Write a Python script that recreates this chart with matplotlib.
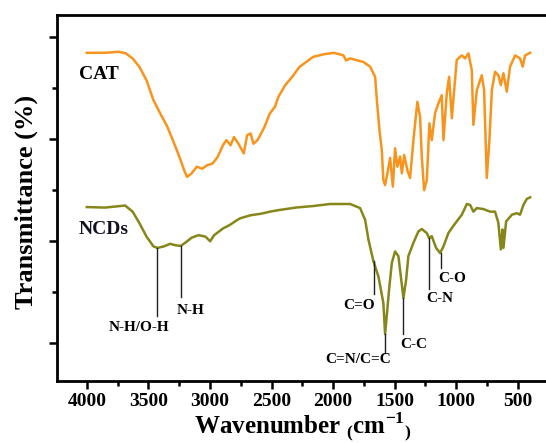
# FTIR spectra of CAT and NCDs

from matplotlib import pyplot as plt
from matplotlib.ticker import MultipleLocator

# CAT spectrum (wavenumber, offset transmittance)
cat_wn = [4000, 3853, 3741, 3684, 3628, 3572, 3515, 3459, 3403, 3346, 3290,
          3248, 3205, 3186, 3149, 3107, 3064, 3022, 2980, 2938, 2895, 2867,
          2833, 2805, 2769, 2726, 2698, 2670, 2647, 2614, 2557, 2515, 2473,
          2444, 2388, 2332, 2275, 2219, 2163, 2078, 2024, 1994, 1916, 1895,
          1862, 1754, 1700, 1659, 1645, 1624, 1605, 1592, 1578, 1559, 1537,
          1515, 1497, 1478, 1456, 1442, 1423, 1397, 1375, 1348, 1316, 1294,
          1280, 1261, 1239, 1218, 1199, 1172, 1145, 1118, 1104, 1077, 1058,
          1036, 1017, 996, 955, 928, 901, 874, 861, 833, 793, 774, 752, 731,
          711, 685, 658, 638, 617, 590, 563, 522, 482, 460, 441, 400]
cat_t = [5.69, 5.69, 5.71, 5.68, 5.58, 5.41, 5.15, 4.76, 4.50, 4.24, 3.91,
         3.65, 3.36, 3.26, 3.33, 3.46, 3.42, 3.49, 3.52, 3.65, 3.88, 3.98,
         3.88, 4.04, 3.91, 3.72, 4.08, 4.11, 3.91, 3.98, 4.24, 4.50, 4.63,
         4.83, 5.06, 5.22, 5.41, 5.51, 5.61, 5.66, 5.68, 5.69, 5.64, 5.54,
         5.58, 5.51, 5.42, 5.22, 4.77, 4.18, 3.79, 3.20, 3.10, 3.33, 3.63,
         3.07, 3.82, 3.46, 3.66, 3.33, 3.69, 3.39, 3.24, 3.98, 4.73, 4.44,
         3.66, 3.00, 3.20, 4.31, 3.98, 4.51, 4.70, 4.86, 3.98, 4.90, 5.22,
         4.41, 4.96, 5.55, 5.64, 5.58, 5.68, 5.35, 4.28, 4.96, 5.25, 4.96,
         3.24, 3.98, 4.96, 5.32, 5.25, 5.06, 5.29, 4.93, 5.42, 5.64, 5.58,
         5.42, 5.64, 5.69]

# NCDs spectrum
ncd_wn = [4000, 3853, 3689, 3628, 3572, 3515, 3459, 3427, 3374, 3324, 3276,
          3237, 3191, 3149, 3093, 3036, 2999, 2966, 2895, 2839, 2783, 2755,
          2670, 2585, 2512, 2444, 2304, 2163, 2024, 1862, 1781, 1740, 1713,
          1673, 1632, 1592, 1578, 1543, 1523, 1497, 1470, 1450, 1429, 1407,
          1389, 1348, 1308, 1280, 1239, 1220, 1199, 1164, 1131, 1104, 1064,
          1036, 996, 955, 914, 887, 861, 833, 779, 725, 685, 658, 638, 625,
          617, 595, 548, 508, 482, 455, 427, 400]
ncd_t = [2.67, 2.66, 2.70, 2.58, 2.35, 2.09, 1.90, 1.87, 1.90, 1.95, 1.92,
         1.91, 1.99, 2.07, 2.12, 2.09, 2.00, 2.12, 2.25, 2.32, 2.41, 2.45,
         2.51, 2.54, 2.58, 2.61, 2.66, 2.69, 2.73, 2.73, 2.65, 2.42, 2.03,
         1.61, 1.31, 0.79, 0.18, 1.12, 1.58, 1.80, 1.71, 1.31, 0.89, 1.25,
         1.71, 1.97, 2.19, 2.24, 2.16, 2.06, 2.10, 1.87, 1.77, 1.90, 2.16,
         2.26, 2.39, 2.52, 2.73, 2.71, 2.58, 2.65, 2.63, 2.58, 2.58, 2.36,
         1.84, 2.23, 1.87, 2.39, 2.52, 2.55, 2.52, 2.71, 2.83, 2.86]

# peak assignments: label, marker line x, line top, line bottom, text x, text y
peak_labels = ["N-H/O-H", "N-H", "C=O", "C=N/C=C", "C-C", "C-N", "C-O"]
peak_wn = [3427, 3237, 1667, 1578, 1429, 1220, 1125]
line_top = [1.87, 1.91, 1.61, 0.18, 0.89, 2.06, 1.77]
line_bottom = [0.53, 0.90, 0.96, -0.18, 0.18, 1.06, 1.48]
label_wn = [3577, 3155, 1789, 1799, 1344, 1131, 1036]
label_t = [0.31, 0.64, 0.74, -0.31, -0.02, 0.87, 1.27]

plt.rcParams['font.family'] = ['Liberation Serif', 'DejaVu Serif']
plt.rcParams['font.weight'] = 'bold'
plt.rcParams['mathtext.fontset'] = 'custom'
plt.rcParams['mathtext.rm'] = 'Liberation Serif:bold'
plt.rcParams['mathtext.bf'] = 'Liberation Serif:bold'

fig = plt.figure(figsize=(5.46, 4.43), dpi=100)
# right spine sits just outside the picture, as in the original
ax = fig.add_axes([0.1038, 0.1406, 0.901, 0.8255])

ax.plot(cat_wn, cat_t, color="#F7941D", lw=1.8)
ax.plot(ncd_wn, ncd_t, color="#86861A", lw=1.8)

# marker lines and labels for the NCDs bands
for name, wn, top, bot, tx, ty in zip(peak_labels, peak_wn, line_top,
                                      line_bottom, label_wn, label_t):
    ax.plot([wn, wn], [bot, top], color="#222222", lw=1.0)
    ax.text(tx, ty, name, ha="center", va="center", fontsize=11,
            fontweight="bold")

ax.text(4065, 5.27, "CAT", ha="left", va="center", fontsize=14,
        fontweight="bold")
ax.text(4065, 2.23, "NCDs", ha="left", va="center", fontsize=14,
        fontweight="bold", color="#111122")

ax.set_xlim(4245, 250)
ax.set_ylim(-0.73, 6.43)

ax.xaxis.set_major_locator(MultipleLocator(500))
ax.xaxis.set_minor_locator(MultipleLocator(250))
ax.yaxis.set_major_locator(MultipleLocator(2))
ax.yaxis.set_minor_locator(MultipleLocator(1))
ax.set_xticks(range(500, 4001, 500))
ax.tick_params(axis="both", which="major", direction="out", length=6,
               width=1.8, labelsize=14, pad=3)
ax.tick_params(axis="both", which="minor", direction="out", length=3.5,
               width=1.8)
ax.tick_params(axis="y", labelleft=False)
for lbl in ax.get_xticklabels():
    lbl.set_fontweight("bold")

for side in ax.spines.values():
    side.set_linewidth(2)

# small, lowered brackets around the unit, like the original label
ax.set_xlabel("Wavenumber $_{(}$cm$^{-1}$$_{)}$", fontsize=18,
              fontweight="bold")
ax.set_ylabel("Transmittance (%)", fontsize=19, fontweight="bold")
ax.xaxis.label.set_va("baseline")
ax.yaxis.label.set_va("center")
ax.xaxis.set_label_coords(0.5, -0.143)
ax.yaxis.set_label_coords(-0.062, 0.49)

fig.savefig("out.png", dpi=100)
plt.close()
